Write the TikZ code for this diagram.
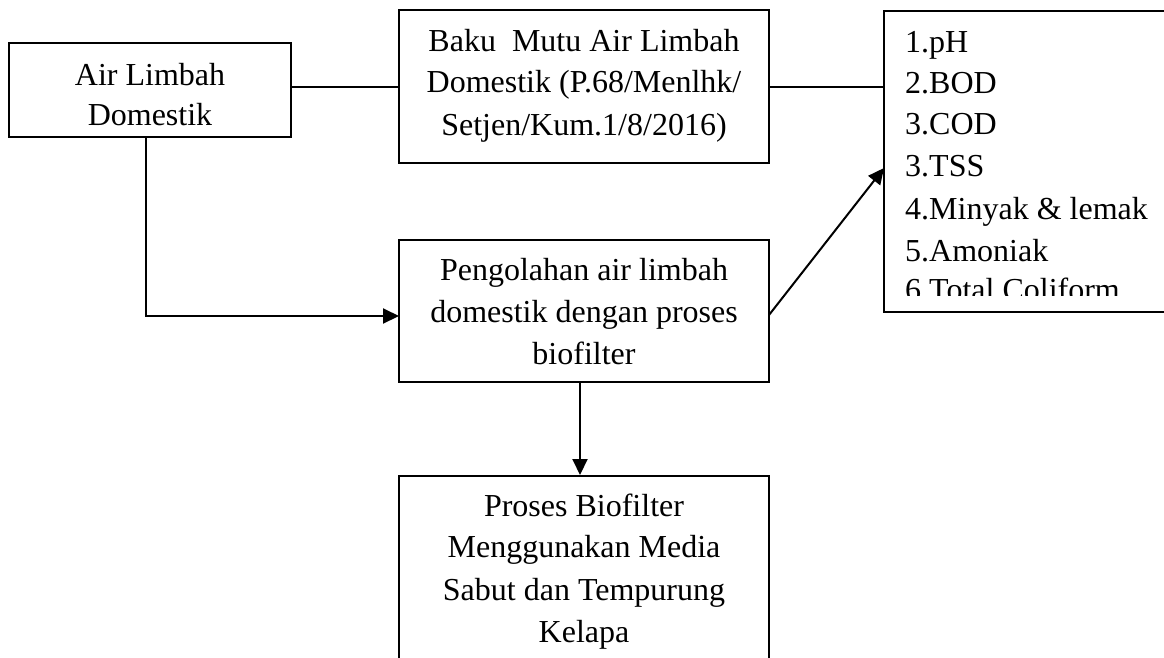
\documentclass[tikz,border=0pt]{standalone}
\usepackage{fontspec}
\setmainfont{Liberation Serif}
\usetikzlibrary{arrows.meta}
\begin{document}
\begin{tikzpicture}[x=1pt,y=-1pt,
  box/.style={draw, line width=2pt, rectangle, inner sep=0pt},
  txt/.style={anchor=base, inner sep=0pt, font=\fontsize{32}{38}\selectfont},
  ltxt/.style={txt, anchor=base west},
  conn/.style={line width=2pt},
  arr/.style={conn, -{Triangle[length=16pt,width=15pt]}}]
\useasboundingbox (0,0) rectangle (1164,657);
\clip (0,0) rectangle (1164,657);
% boxes
\node[box, minimum width=282, minimum height=94] (src) at (150,90) {};
\node[box, minimum width=370, minimum height=153] (baku) at (584,86.5) {};
\node[box, minimum width=316, minimum height=301] (par) at (1042,161.5) {};
\node[box, minimum width=370, minimum height=142] (proc) at (584,311) {};
\node[box, minimum width=370, minimum height=244] (bio) at (584,598) {};
% texts
\node[txt] (t1) at (150,85) {Air Limbah};
\node[txt] (t2) at (150,125) {Domestik};
\node[txt] (b1) at (584,51) {Baku\ \ Mutu Air Limbah};
\node[txt] (b2) at (584,92) {Domestik (P.68/Menlhk/};
\node[txt] (b3) at (584,135) {Setjen/Kum.1/8/2016)};
\node[ltxt] (p1) at (905,52) {1.pH};
\node[ltxt] (p2) at (905,93) {2.BOD};
\node[ltxt] (p3) at (905,134) {3.COD};
\node[ltxt] (p4) at (905,176) {3.TSS};
\node[ltxt] (p5) at (905,219) {4.Minyak \& lemak};
\node[ltxt] (p6) at (905,261) {5.Amoniak};
\begin{scope}
\clip (884,0) rectangle (1164,295);
\node[ltxt] (p7) at (905,300) {6.Total Coliform};
\end{scope}
\node[txt] (g1) at (584,280) {Pengolahan air limbah};
\node[txt] (g2) at (584,322) {domestik dengan proses};
\node[txt] (g3) at (584,364) {biofilter};
\node[txt] (k1) at (584,516) {Proses Biofilter};
\node[txt] (k2) at (584,557) {Menggunakan Media};
\node[txt] (k3) at (584,600) {Sabut dan Tempurung};
\node[txt] (k4) at (584,642) {Kelapa};
% connectors
\coordinate (procin) at (399,316);
\coordinate (procout) at (769,315);
\coordinate (parin) at (884,168);
\draw[conn] (src.east |- baku.west) -- (baku.west);
\draw[conn] (baku.east) -- (baku.east -| par.west);
\draw[arr] ([xshift=-4pt]src.south) |- (procin);
\draw[arr] (procout) -- (parin);
\draw[arr] ([xshift=-4pt]proc.south) -- ([xshift=-4pt]bio.north);
\end{tikzpicture}
\end{document}
